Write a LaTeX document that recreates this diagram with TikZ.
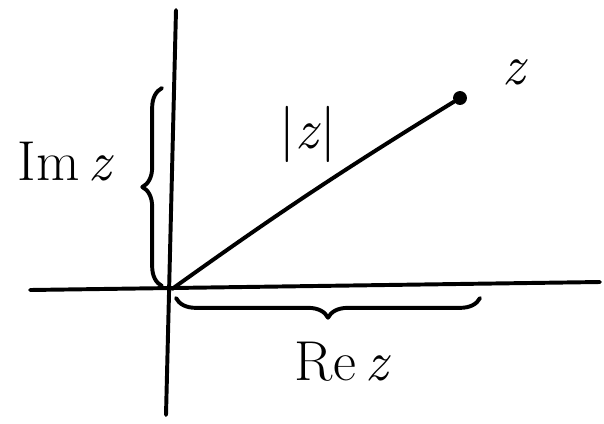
\documentclass[tikz,border=0pt]{standalone}
\usetikzlibrary{positioning, decorations.pathreplacing, calc}
\begin{document}
\begin{tikzpicture}[x=0.025cm, y=-0.025cm,
    stroke/.style={line width=2.8pt, line cap=round, line join=round},
    brc/.style={stroke, decorate, decoration={brace, amplitude=14pt}},
    lbl/.style={font=\fontsize{40}{44}\selectfont}]
  \useasboundingbox (0,0) rectangle (604,423);
  % axes
  \coordinate (xl) at (30,290);
  \coordinate (xr) at (600,282);
  \coordinate (yt) at (176,10);
  \coordinate (yb) at (166,415);
  \coordinate (O) at (172,289);
  \draw[stroke] (xl) -- (xr);
  \draw[stroke] (yt) -- (yb);
  % point z and modulus
  \node[circle, fill, inner sep=3.5pt] (z) at (460,98) {};
  \node[lbl] (zl) at (515,72) {\textit{z}};
  \draw[stroke] (O) to[bend left=2] (z);
  \node[lbl] (abs) at (308,134) {|\textit{z}|};
  % braces
  \coordinate (ib) at (162,286);
  \coordinate (it) at (162,88);
  \draw[brc] (ib) -- (it);
  \node[lbl] (im) at (66,162) {Im\,\textit{z}};
  \coordinate (rr) at (480,298);
  \coordinate (rl) at (176,298);
  \draw[brc] (rr) -- (rl);
  \node[lbl] (re) at (343,362) {Re\,\textit{z}};
\end{tikzpicture}
\end{document}
